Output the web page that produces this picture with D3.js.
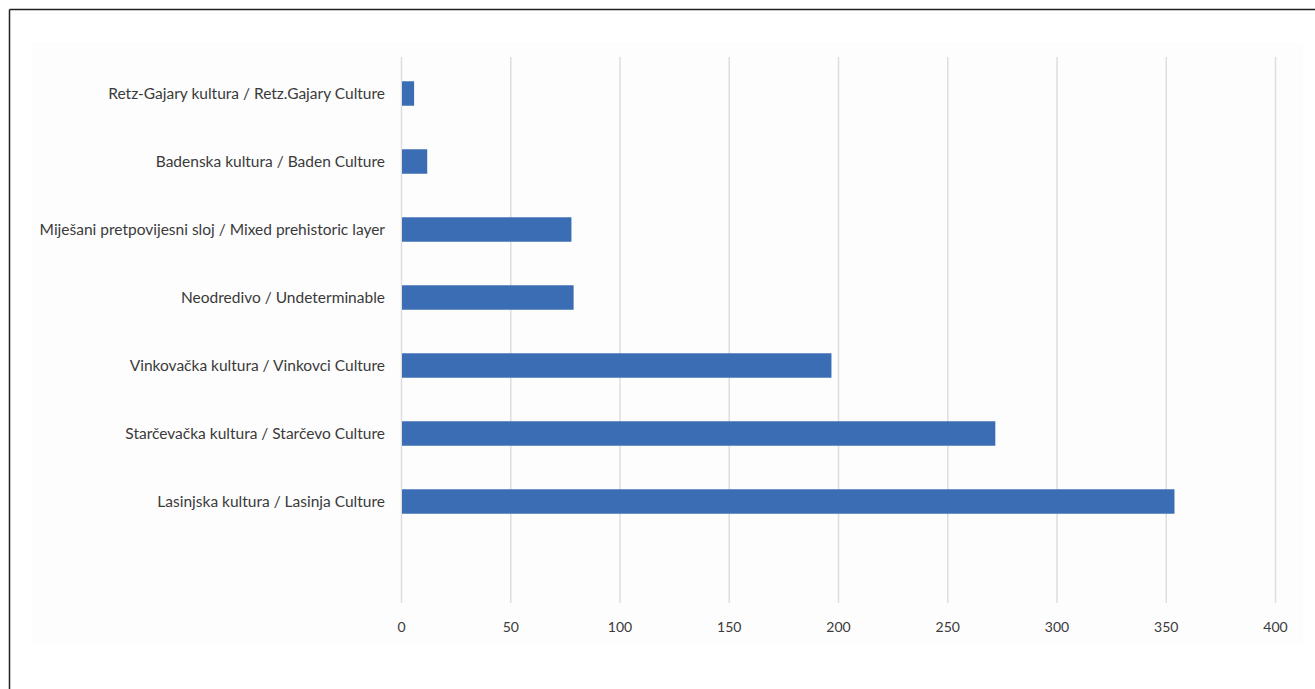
<!DOCTYPE html>
<html>
<head>
<meta charset="utf-8">
<script src="https://cdn.jsdelivr.net/npm/d3@7/dist/d3.min.js"></script>
<style>
  html, body { margin: 0; padding: 0; background: #ffffff; }
  svg { display: block; }
</style>
</head>
<body>
<svg id="chart" width="1315" height="689"></svg>
<script>
const categories = [
  "Retz-Gajary kultura / Retz.Gajary Culture",
  "Badenska kultura / Baden Culture",
  "Miješani pretpovijesni sloj / Mixed prehistoric layer",
  "Neodredivo / Undeterminable",
  "Vinkovačka kultura / Vinkovci Culture",
  "Starčevačka kultura / Starčevo Culture",
  "Lasinjska kultura / Lasinja Culture",
  ""
];
const values = [6, 12, 78, 79, 197, 272, 354, null];
const xTicks = [0, 50, 100, 150, 200, 250, 300, 350, 400];

const svg = d3.select("#chart");
const fontFam = "Lato, 'Open Sans', 'Liberation Sans', sans-serif";

// frame
svg.append("line").attr("x1", 9.5).attr("x2", 1315).attr("y1", 9.5).attr("y2", 9.5)
  .attr("stroke", "#222").attr("stroke-width", 1.5);
svg.append("line").attr("x1", 9.5).attr("x2", 9.5).attr("y1", 9.5).attr("y2", 689)
  .attr("stroke", "#222").attr("stroke-width", 1.5);

// plot background
svg.append("rect").attr("x", 32).attr("y", 42).attr("width", 1271).attr("height", 603)
  .attr("fill", "#fdfdfd");

const x = d3.scaleLinear().domain([0, 400]).range([401, 1275]);
const y = d3.scaleBand().domain(categories).range([59.5, 603.5]).padding(0);

// gridlines
svg.append("g").selectAll("line").data(xTicks).join("line")
  .attr("x1", d => x(d) + 0.5).attr("x2", d => x(d) + 0.5)
  .attr("y1", 57).attr("y2", 603)
  .attr("stroke", "#dedede").attr("stroke-width", 1.5);

// bars
const bh = y.bandwidth() * 0.36;
svg.append("g").selectAll("rect").data(categories.map((c, i) => ({c, v: values[i]})).filter(d => d.v != null))
  .join("rect")
  .attr("x", x(0) + 1)
  .attr("y", d => y(d.c) + (y.bandwidth() - bh) / 2)
  .attr("width", d => x(d.v) - x(0) - 1)
  .attr("height", bh)
  .attr("fill", "#3a6db3");

// category labels
svg.append("g").selectAll("text").data(categories.filter(c => c)).join("text")
  .attr("x", 385)
  .attr("y", d => y(d) + y.bandwidth() / 2)
  .attr("dy", "0.35em")
  .attr("text-anchor", "end")
  .attr("font-family", fontFam)
  .attr("font-size", 15.5)
  .attr("fill", "#3a3a3a")
  .text(d => d);

// x tick labels
svg.append("g").selectAll("text").data(xTicks).join("text")
  .attr("x", d => x(d) + 0.5)
  .attr("y", 627)
  .attr("dy", "0.35em")
  .attr("text-anchor", "middle")
  .attr("font-family", fontFam)
  .attr("font-size", 14)
  .attr("fill", "#3a3a3a")
  .text(d => d);
</script>
</body>
</html>
